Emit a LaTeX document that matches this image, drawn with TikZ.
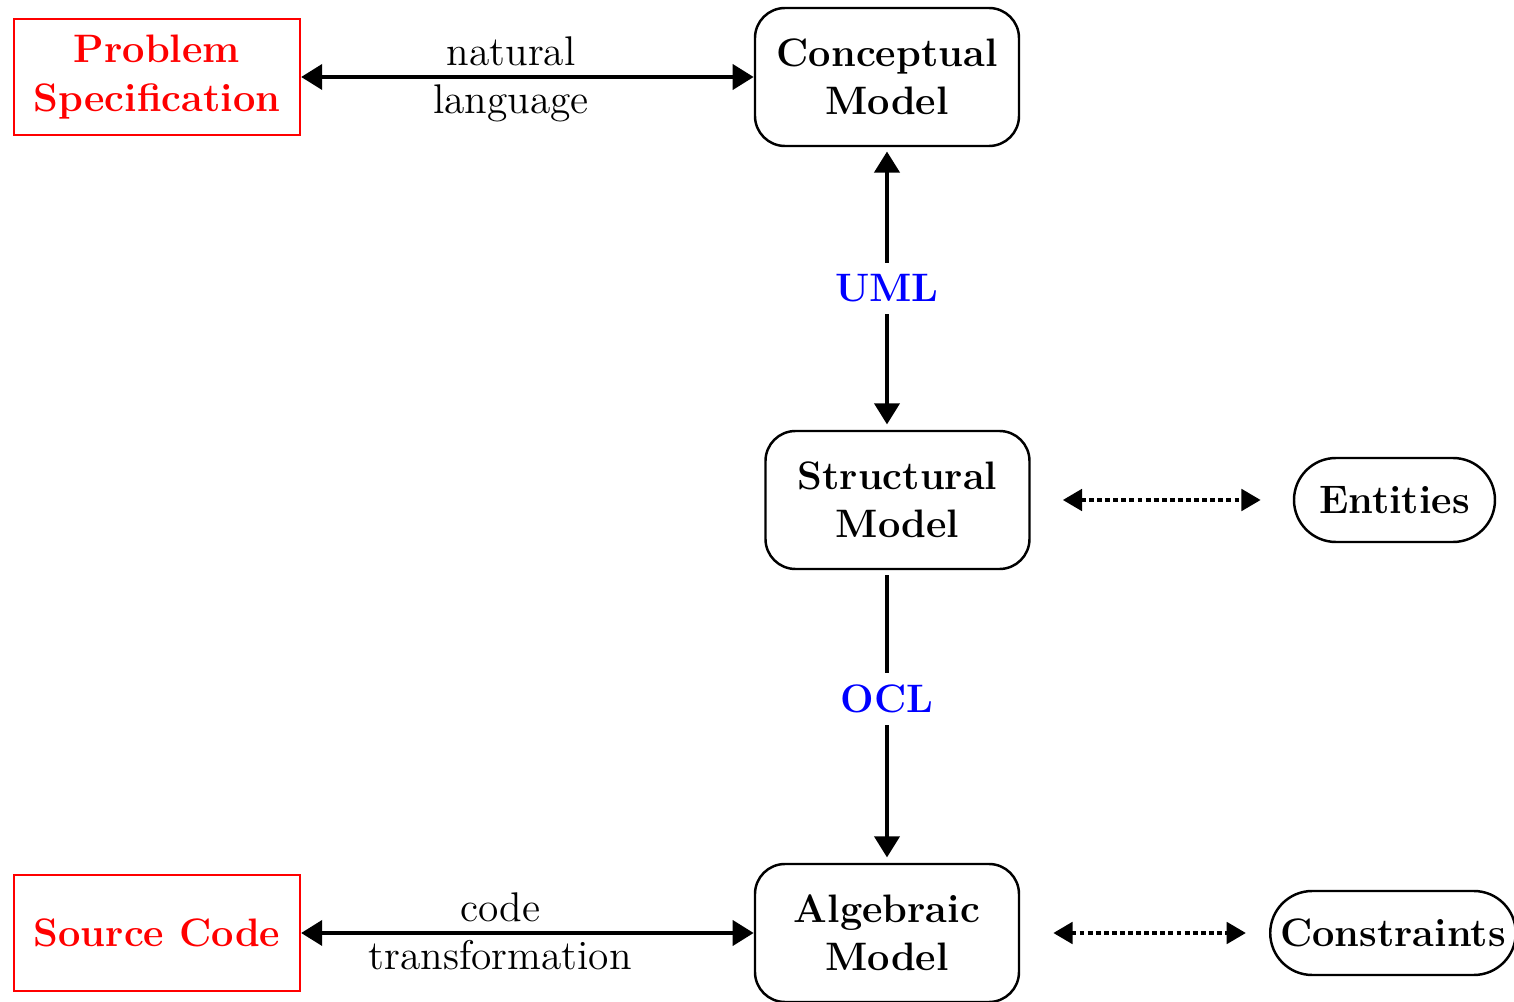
\documentclass[tikz,border=0pt]{standalone}
\usetikzlibrary{arrows.meta}

\begin{document}
\begin{tikzpicture}[font=\fontsize{11.8}{13.7}\selectfont,
    model/.style = {draw, line width=0.7pt, rounded corners=0.3cm, align=center, font=\fontsize{11.3}{13.7}\selectfont\bfseries, minimum width=2.64cm, minimum height=1.38cm},
    spec/.style = {draw=red, text=red, line width=0.6pt, align=center, font=\fontsize{11.3}{13.7}\selectfont\bfseries, minimum width=2.86cm, minimum height=1.16cm},
    leaf/.style = {draw, line width=0.7pt, rounded corners=0.42cm, font=\fontsize{11.3}{13.7}\selectfont\bfseries, inner xsep=0.1cm, minimum width=2.01cm, minimum height=0.84cm},
    link/.style = {line width=1.4pt, {Triangle[length=6pt,width=7pt]}-{Triangle[length=6pt,width=7pt]}},
    lang/.style = {fill=white, text=blue, font=\fontsize{11.3}{13.7}\selectfont\bfseries},
    dots/.style = {line width=1.3pt, dash pattern=on 1.4pt off 0.9pt, {Triangle[length=5.5pt,width=6pt]}-{Triangle[length=5.5pt,width=6pt]}}]
    \useasboundingbox (0,0) rectangle (15.14,-10.02);
    \node[model] (C) at (8.87,-0.77) {Conceptual\\Model};
    \node[spec] (P) [left of=C, node distance=7.3cm] {Problem\\Specification};
    \node[model] (S) at (8.975,-5.0) {Structural\\Model};
    \node[model] (A) [below of=C, node distance=8.56cm] {Algebraic\\Model};
    \node[spec] (SC) [left of=A, node distance=7.3cm] {Source Code};
    \node[leaf] (E) [right of=S, node distance=4.97cm] {Entities};
    \node[leaf] (K) [right of=A, node distance=5.06cm] {Constraints};
    \draw[link] (P)--(C) node [pos=0.464,above,inner sep=2.5pt] {natural} node [pos=0.464,below,inner sep=1.5pt] {language};
    \draw[link, shorten <=1.2pt, shorten >=1.5pt] (C.south)--(C.south |- S.north) node [midway,lang] {UML};
    \draw[link, -{Triangle[length=6pt,width=7pt]}, shorten <=1.5pt, shorten >=1.5pt] (S.south -| A.north)--(A.north) node [pos=0.44,lang] {OCL};
    \draw[link] (SC)--(A) node [pos=0.44,above,inner sep=2.5pt] {code} node [pos=0.44,below,inner sep=1.5pt] {transformation};
    \draw[dots, shorten <=0.32cm, shorten >=0.32cm] (S)--(E);
    \draw[dots, shorten <=0.33cm, shorten >=0.23cm] (A)--(K);
\end{tikzpicture}
\end{document}
